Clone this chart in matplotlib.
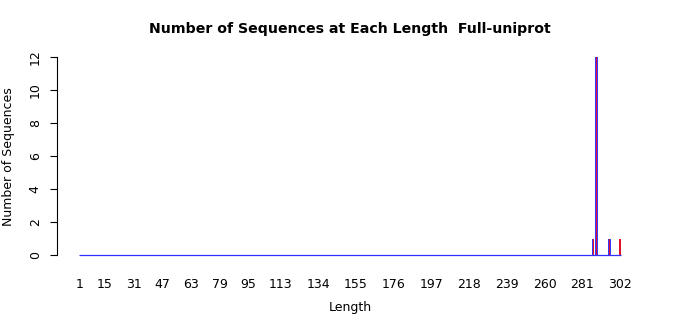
import numpy as np
import matplotlib
matplotlib.use("Agg")
import matplotlib.pyplot as plt

# ---- data ----
min_length = 1
max_length = 302
peak_lengths = [287, 289, 296, 302]
peak_counts = [1, 12, 1, 1]
xtick_labels = [1, 15, 31, 47, 63, 79, 95, 113, 134, 155, 176, 197, 218, 239, 260, 281, 302]
ytick_values = [0, 2, 4, 6, 8, 10, 12]

lengths = np.arange(min_length, max_length + 1)
counts = np.zeros(len(lengths))
for L, c in zip(peak_lengths, peak_counts):
    counts[L - min_length] = c

plt.rcParams['font.family'] = ['DejaVu Sans']

W, H = 700, 315
fig = plt.figure(figsize=(W / 100, H / 100), dpi=100)

# axes in pixel coords
left, right, top, bottom = 57, 648, 49, 263
ax = fig.add_axes([left / W, 1 - bottom / H, (right - left) / W, (bottom - top) / H])

bw = 1 / 1.2
nz = counts > 0
# bar border (blue) and fill (red)
ax.bar(lengths[nz], counts[nz], width=1.55, color='#3838ff', linewidth=0)
ax.bar(lengths[nz], counts[nz], width=0.6, color='#e0102a', linewidth=0)
# zero-height bars: their borders form the baseline
ax.hlines(0, lengths[0] - bw / 2, lengths[-1] + bw / 2, color='#3030ff', linewidth=0.9)

# x limits: bar 1 at px 79.6, bar 302 at px 620
ppu = (620 - 79.6) / 301.0
x0 = 1 - (79.6 - left) / ppu
x1 = x0 + (right - left) / ppu
ax.set_xlim(x0, x1)
ax.set_ylim(-0.48, 12.48)

for s in ['top', 'right', 'bottom']:
    ax.spines[s].set_visible(False)
ax.spines['left'].set_bounds(0, 12)
ax.spines['left'].set_linewidth(0.8)

ax.set_yticks(ytick_values)
ax.set_yticklabels([str(v) for v in ytick_values], rotation=90, va='center', fontsize=9)
ax.tick_params(axis='y', length=5, width=0.8, pad=6)

ax.set_xticks(xtick_labels)
ax.set_xticklabels([str(v) for v in xtick_labels], fontsize=9)
ax.tick_params(axis='x', length=0, pad=11)

fig.text(350 / W, 1 - 29 / H, "Number of Sequences at Each Length  Full-uniprot",
         ha='center', va='center', fontsize=10.2, fontweight='bold')
fig.text(350 / W, 1 - 307 / H, "Length", ha='center', va='center', fontsize=9)
fig.text(9 / W, 1 - 157 / H, "Number of Sequences", ha='center', va='center',
         rotation=90, fontsize=9)

fig.savefig("out.png", dpi=100)
